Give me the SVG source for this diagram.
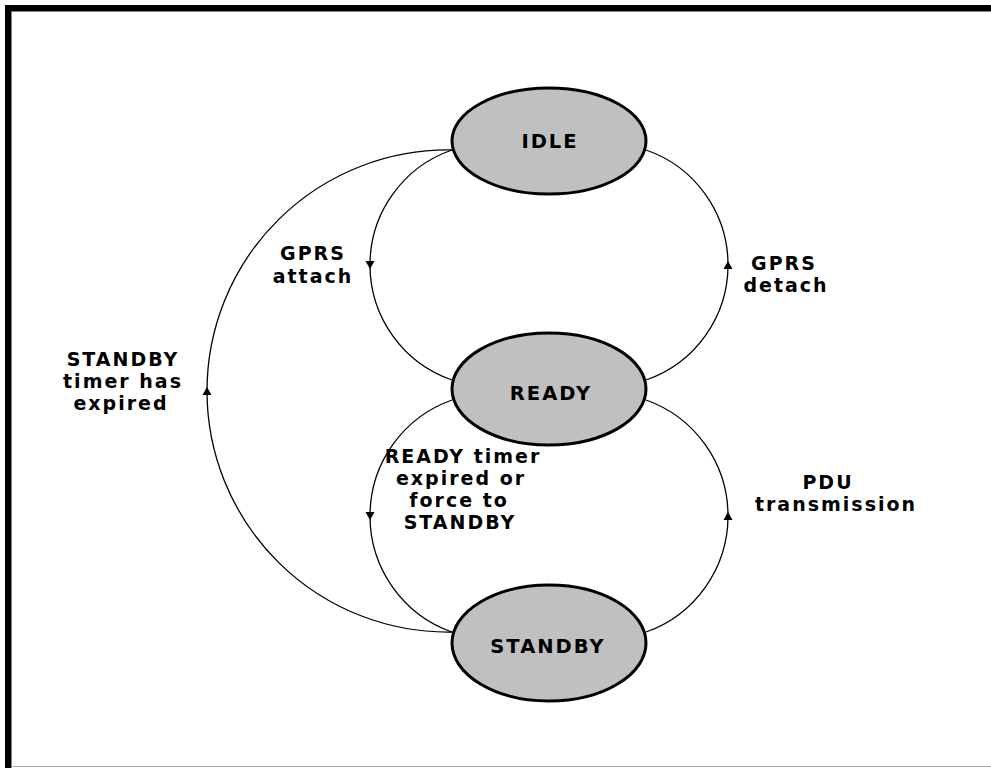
<svg xmlns="http://www.w3.org/2000/svg" width="991" height="768" viewBox="0 0 991 768">
<defs>
<marker id="arr" markerUnits="userSpaceOnUse" markerWidth="12" markerHeight="12" viewBox="-1 -6 12 12" refX="4" refY="0" orient="auto">
<path d="M0,-4.5 L8,0 L0,4.5 z" fill="#000"/>
</marker>
<style>
.state{fill:#c0c0c0;stroke:#000;stroke-width:3}
.st{font-family:"DejaVu Sans",Verdana,sans-serif;font-weight:bold;font-size:19.5px;letter-spacing:2px;text-anchor:middle;fill:#000}
.lb{font-family:"DejaVu Sans",Verdana,sans-serif;font-weight:bold;font-size:19px;letter-spacing:2px;text-anchor:middle;fill:#000}
.arc{fill:none;stroke:#000;stroke-width:1.3;marker-mid:url(#arr)}
</style>
</defs>
<rect x="0" y="0" width="991" height="768" fill="#fff"/>
<rect x="5" y="5" width="986" height="6" fill="#000"/>
<rect x="5" y="5" width="6" height="763" fill="#000"/>
<line x1="11" y1="11.5" x2="991" y2="11.5" stroke="#808080" stroke-width="1"/>
<line x1="11.5" y1="11" x2="11.5" y2="768" stroke="#808080" stroke-width="1"/>
<line x1="11" y1="766.5" x2="991" y2="766.5" stroke="#b0b0b0" stroke-width="1"/>
<g id="connectors">
<path class="arc" d="M452,150 A121.6,121.6 0 0 0 370,265 A121.6,121.6 0 0 0 452,380"/>
<path class="arc" d="M646,380 A121.6,121.6 0 0 0 728,265 A121.6,121.6 0 0 0 646,150"/>
<path class="arc" d="M452,632 A241,241 0 0 1 207,391 A241,241 0 0 1 452,150"/>
<path class="arc" d="M452,400 A123,123 0 0 0 370,516 A123,123 0 0 0 452,632"/>
<path class="arc" d="M646,632 A123,123 0 0 0 728,516 A123,123 0 0 0 646,400"/>
</g>
<g id="idle">
<ellipse class="state" cx="549" cy="141" rx="97" ry="53"/>
<text class="st" x="550" y="148">IDLE</text>
</g>
<g id="ready">
<ellipse class="state" cx="549" cy="389" rx="97" ry="56"/>
<text class="st" x="551" y="400">READY</text>
</g>
<g id="standby">
<ellipse class="state" cx="549" cy="643" rx="97" ry="58"/>
<text class="st" x="548" y="653">STANDBY</text>
</g>
<g id="labels">
<text class="lb" x="313" y="260">GPRS</text>
<text class="lb" x="313" y="283">attach</text>
<text class="lb" x="784" y="270">GPRS</text>
<text class="lb" x="786" y="292">detach</text>
<text class="lb" x="123" y="366">STANDBY</text>
<text class="lb" x="123" y="388">timer has</text>
<text class="lb" x="121" y="410">expired</text>
<text class="lb" x="463" y="463">READY timer</text>
<text class="lb" x="461" y="485">expired or</text>
<text class="lb" x="459" y="507">force to</text>
<text class="lb" x="460" y="529">STANDBY</text>
<text class="lb" x="828" y="489">PDU</text>
<text class="lb" x="836" y="511">transmission</text>
</g>
</svg>
